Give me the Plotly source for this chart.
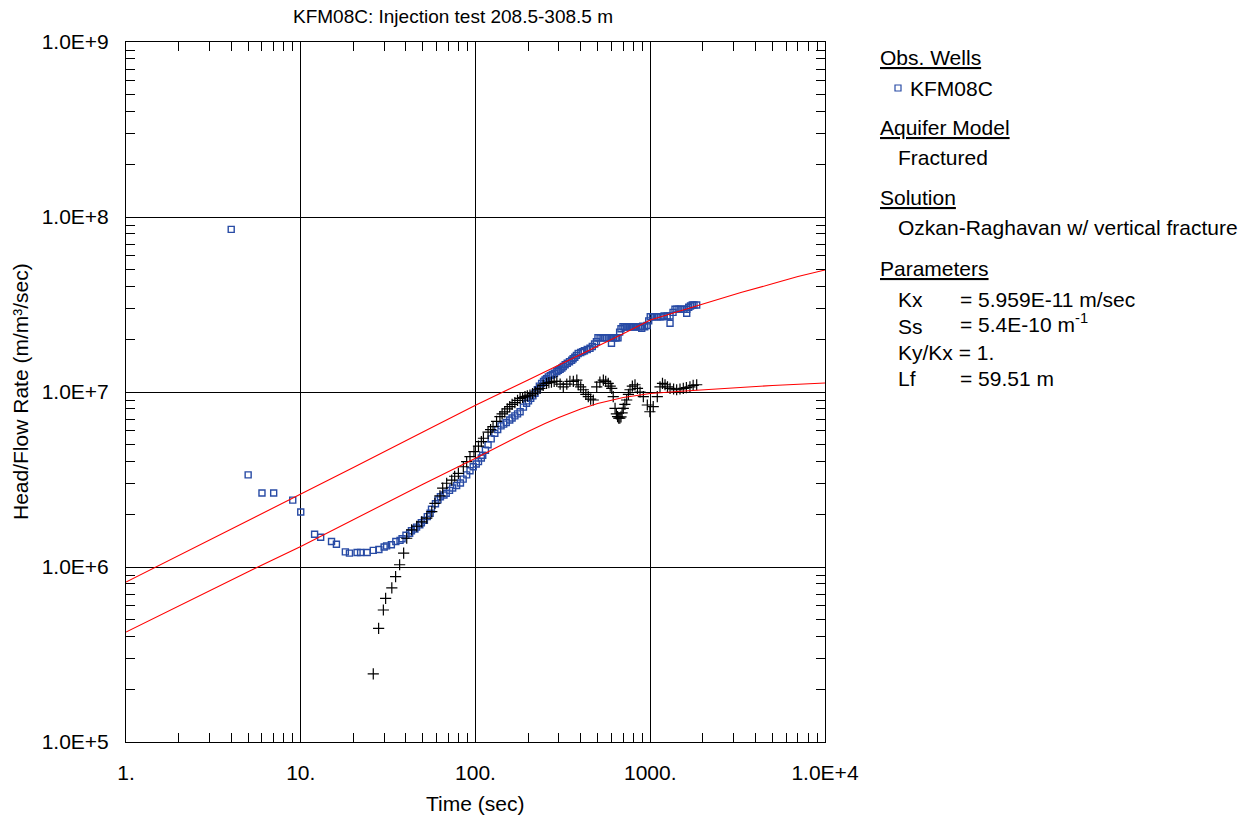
import plotly.graph_objects as go

# ---------------- data ----------------
obs_t = [4, 5, 6, 7, 9, 10, 12, 13, 15, 16, 18, 19, 21, 22, 24, 26, 28, 30, 31, 33,
         35, 37, 38, 40, 42, 43, 45, 46, 48, 49, 51, 53, 55, 56, 59, 61, 63, 66, 68,
         71, 74, 78, 82, 85, 89, 93, 97, 101, 104, 108, 110, 114, 118, 123, 129, 134,
         140, 145, 150, 157, 162, 168, 174, 180, 188, 196, 201, 207, 213, 219, 226,
         232, 239, 245, 250, 255, 261, 268, 275, 283, 292, 298, 305, 312, 318, 326,
         335, 345, 355, 362, 370, 378, 387, 400, 410, 420, 436, 452, 466, 480, 492,
         502, 516, 530, 545, 560, 580, 602, 600, 615, 630, 642, 654, 668, 680, 698,
         715, 730, 745, 760, 780, 800, 818, 836, 894, 860, 880, 905, 930, 958, 980,
         1000, 1030, 1060, 1100, 1138, 1170, 1200, 1250, 1298, 1298, 1350, 1385, 1420,
         1460, 1500, 1560, 1617, 1617, 1660, 1700, 1740, 1780, 1844]
obs_v = [8.5e7, 3.36e6, 2.65e6, 2.65e6, 2.41e6, 2.06e6, 1.54e6, 1.48e6, 1.40e6, 1.35e6,
         1.22e6, 1.20e6, 1.21e6, 1.21e6, 1.21e6, 1.245e6, 1.26e6, 1.30e6, 1.32e6, 1.34e6,
         1.40e6, 1.42e6, 1.45e6, 1.52e6, 1.56e6, 1.61e6, 1.65e6, 1.69e6, 1.74e6, 1.79e6,
         1.85e6, 1.94e6, 2.03e6, 2.14e6, 2.30e6, 2.42e6, 2.52e6, 2.58e6, 2.64e6,
         2.74e6, 2.83e6, 2.92e6, 3.02e6, 3.18e6, 3.36e6, 3.55e6, 3.74e6, 3.88e6, 4.0e6,
         4.2e6, 4.35e6, 4.65e6, 5.0e6, 5.4e6, 5.81e6, 6.1e6, 6.4e6, 6.55e6, 6.7e6,
         6.92e6, 7.1e6, 7.3e6, 7.5e6, 7.71e6, 8.2e6, 8.62e6, 8.9e6, 9.2e6, 9.5e6,
         9.84e6, 1.03e7, 1.08e7, 1.12e7, 1.15e7, 1.17e7, 1.19e7, 1.22e7, 1.24e7,
         1.26e7, 1.28e7, 1.31e7, 1.33e7, 1.35e7, 1.37e7, 1.40e7, 1.43e7, 1.46e7,
         1.49e7, 1.52e7, 1.55e7, 1.58e7, 1.62e7, 1.66e7, 1.68e7, 1.70e7, 1.72e7,
         1.75e7, 1.78e7, 1.82e7, 1.88e7, 1.94e7, 2.04e7, 2.04e7, 2.04e7, 2.04e7,
         2.04e7, 2.04e7, 2.04e7, 1.90e7, 2.04e7, 2.04e7, 2.04e7, 2.04e7, 2.20e7,
         2.30e7, 2.36e7, 2.36e7, 2.36e7, 2.36e7, 2.36e7, 2.36e7, 2.36e7, 2.36e7,
         2.36e7, 2.31e7, 2.36e7, 2.36e7, 2.38e7, 2.36e7, 2.40e7, 2.55e7, 2.69e7,
         2.69e7, 2.69e7, 2.69e7, 2.69e7, 2.69e7, 2.72e7, 2.72e7, 2.72e7, 2.47e7,
         2.85e7, 2.97e7, 2.97e7, 2.97e7, 2.97e7, 2.97e7, 2.97e7, 2.82e7, 3.05e7,
         3.10e7, 3.14e7, 3.14e7, 3.14e7]

der_t = [26.0, 27.9, 29.7, 30.6, 33.2, 34.9, 36.8, 38.8, 40.4, 43.1, 46.1, 49.2, 52.6,
         56.2, 58.6, 62.6, 64.9, 68.4, 73.1, 76, 79.8, 85.2, 89, 93, 98, 104, 108, 111,
         118, 122, 126, 132, 138, 142, 147, 152, 157, 162, 168, 174, 180, 186, 192,
         198, 205, 212, 220, 227, 234, 244, 255, 263, 272, 282, 292, 305, 318, 333,
         347, 363, 380, 387, 400, 414, 428, 442, 456, 472, 494, 515, 539, 556, 575,
         590, 602, 614, 629, 640, 650, 660, 670, 680, 690, 701, 716, 733, 750, 766,
         790, 818, 845, 874, 913, 962, 995, 1040, 1097, 1137, 1175, 1215, 1255, 1298,
         1360, 1416, 1480, 1546, 1610, 1687, 1760, 1844]
der_v = [2.45e5, 4.46e5, 5.68e5, 6.62e5, 7.59e5, 8.80e5, 1.03e6, 1.20e6, 1.46e6, 1.63e6,
         1.71e6, 1.81e6, 1.90e6, 2.07e6, 2.31e6, 2.55e6, 2.82e6, 3.01e6, 3.14e6, 3.30e6,
         3.43e6, 3.74e6, 4.0e6, 4.27e6, 4.56e6, 4.9e6, 5.2e6, 5.44e6, 5.9e6, 6.1e6,
         6.34e6, 6.8e6, 7.23e6, 7.5e6, 7.7e6, 8.0e6, 8.24e6, 8.5e6, 8.7e6, 8.95e6,
         9.2e6, 9.3e6, 9.4e6, 9.5e6, 9.6e6, 9.8e6, 1.0e7, 1.03e7, 1.05e7, 1.09e7,
         1.12e7, 1.13e7, 1.14e7, 1.15e7, 1.15e7, 1.11e7, 1.07e7, 1.11e7, 1.15e7,
         1.15e7, 1.17e7, 1.10e7, 1.07e7, 1.03e7, 9.7e6, 9.4e6, 9.1e6, 9.0e6, 1.07e7,
         1.14e7, 1.17e7, 1.15e7, 1.12e7, 1.08e7, 1.05e7, 9.4e6, 8.07e6, 7.5e6, 7.23e6,
         7.1e6, 7.1e6, 7.2e6, 7.6e6, 8.07e6, 8.5e6, 9.0e6, 9.7e6, 1.03e7, 1.08e7,
         1.10e7, 1.05e7, 1.0e7, 9.4e6, 8.43e6, 7.71e6, 8.24e6, 9.4e6, 1.07e7, 1.12e7,
         1.10e7, 1.07e7, 1.05e7, 1.04e7, 1.03e7, 1.04e7, 1.05e7, 1.06e7, 1.07e7,
         1.09e7, 1.10e7]

fit_t = [1, 2, 5, 10, 20, 50, 100, 200, 400, 700, 1000, 1500, 2000, 3300, 5000, 7000,
         10000]
fit_v = [8.2e5, 1.16e6, 1.84e6, 2.61e6, 3.7e6, 5.9e6, 8.4e6, 1.17e7, 1.63e7, 2.15e7,
         2.58e7, 2.92e7, 3.2e7, 3.7e7, 4.15e7, 4.57e7, 4.98e7]

fitd_t = [1, 2, 5, 10, 20, 50, 100, 150, 200, 250, 300, 400, 500, 700, 1000, 1500,
          2000, 3000, 5000, 10000]
fitd_v = [4.25e5, 6.0e5, 9.4e5, 1.31e6, 1.87e6, 2.97e6, 4.18e6, 5.15e6, 5.95e6,
          6.6e6, 7.15e6, 8.0e6, 8.6e6, 9.3e6, 9.8e6, 1.01e7, 1.03e7, 1.06e7, 1.09e7,
          1.125e7]

x_tickvals = [1, 10, 100, 1000, 10000]
x_ticktext = ["1.", "10.", "100.", "1000.", "1.0E+4"]
y_tickvals = [1e5, 1e6, 1e7, 1e8, 1e9]
y_ticktext = ["1.0E+5", "1.0E+6", "1.0E+7", "1.0E+8", "1.0E+9"]

minor_x = [k * 10 ** d for d in range(0, 4) for k in range(2, 10)]
minor_y = [k * 10 ** d for d in range(5, 9) for k in range(2, 10)]

FONT = "Liberation Sans, Arial, sans-serif"
W, H = 1252, 818
L, R, T, B = 126, 825, 42, 742

def px(xp):
    return (xp - L) / (R - L)

def py(yp):
    return (B - yp) / (B - T)

BLUE = "rgb(40,75,165)"

fig = go.Figure()
fig.add_trace(go.Scatter(
    x=obs_t, y=obs_v, mode="markers", showlegend=False,
    marker=dict(symbol="square-open", size=6, color=BLUE,
                line=dict(width=1.4, color=BLUE))))
fig.add_trace(go.Scatter(
    x=der_t, y=der_v, mode="markers", showlegend=False,
    marker=dict(symbol="cross-thin", size=8, color="black",
                line=dict(width=1.2, color="black"))))
fig.add_trace(go.Scatter(
    x=fit_t, y=fit_v, mode="lines", showlegend=False,
    line=dict(color="red", width=1.1)))
fig.add_trace(go.Scatter(
    x=fitd_t, y=fitd_v, mode="lines", showlegend=False,
    line=dict(color="red", width=1.1)))

axis_common = dict(
    type="log", showgrid=True, gridcolor="black", gridwidth=1,
    showline=True, linecolor="black", linewidth=1, mirror="ticks",
    ticks="inside", ticklen=9, tickcolor="black", tickwidth=1,
    zeroline=False, tickfont=dict(family=FONT, size=21, color="black"),
)

fig.update_layout(
    width=W, height=H,
    margin=dict(l=L, r=W - R, t=T, b=H - B, pad=0),
    paper_bgcolor="white", plot_bgcolor="white",
    font=dict(family=FONT, size=21, color="black"),
    xaxis=dict(axis_common, range=[0, 4], tickmode="array",
               tickvals=x_tickvals, ticktext=x_ticktext, ticklabelstandoff=12,
               minor=dict(tickmode="array", tickvals=minor_x, ticks="inside",
                          ticklen=9, tickcolor="black", tickwidth=1, showgrid=False)),
    yaxis=dict(axis_common, range=[5, 9], tickmode="array",
               tickvals=y_tickvals, ticktext=y_ticktext, ticklabelstandoff=12,
               minor=dict(tickmode="array", tickvals=minor_y, ticks="inside",
                          ticklen=9, tickcolor="black", tickwidth=1, showgrid=False)),
)

ann = []
def add(text, xp, yp, size=21, xanchor="left", **kw):
    ann.append(dict(text=text, x=px(xp), y=py(yp), xref="paper", yref="paper",
                    xanchor=xanchor, yanchor="middle", showarrow=False,
                    font=dict(family=FONT, size=size, color="black"), **kw))

# title and axis titles
add("KFM08C: Injection test 208.5-308.5 m", 453, 17, size=19, xanchor="center")
add("Time (sec)", 475, 803, xanchor="center")
add("Head/Flow Rate (m/m³/sec)", 20, 392, xanchor="center", textangle=-90)

# legend / info block
add("<u>Obs. Wells</u>", 878, 57)
add("KFM08C", 908, 88)
add("<u>Aquifer Model</u>", 878, 127)
add("Fractured", 896, 157)
add("<u>Solution</u>", 878, 197)
add("Ozkan-Raghavan w/ vertical fracture", 896, 228)
add("<u>Parameters</u>", 878, 268)
add("Kx", 896, 299)
add("= 5.959E-11 m/sec", 958, 299)
add("Ss", 896, 326)
add("= 5.4E-10 m<sup>-1</sup>", 958, 323)
add("Ky/Kx = 1.", 896, 352)
add("Lf", 896, 378)
add("= 59.51 m", 958, 378)
fig.update_layout(annotations=ann)

# legend marker square
fig.add_shape(type="rect", xref="paper", yref="paper",
              x0=px(895), x1=px(901), y0=py(91), y1=py(85),
              line=dict(color=BLUE, width=1.2), fillcolor="white")

fig.write_html("out.html")
